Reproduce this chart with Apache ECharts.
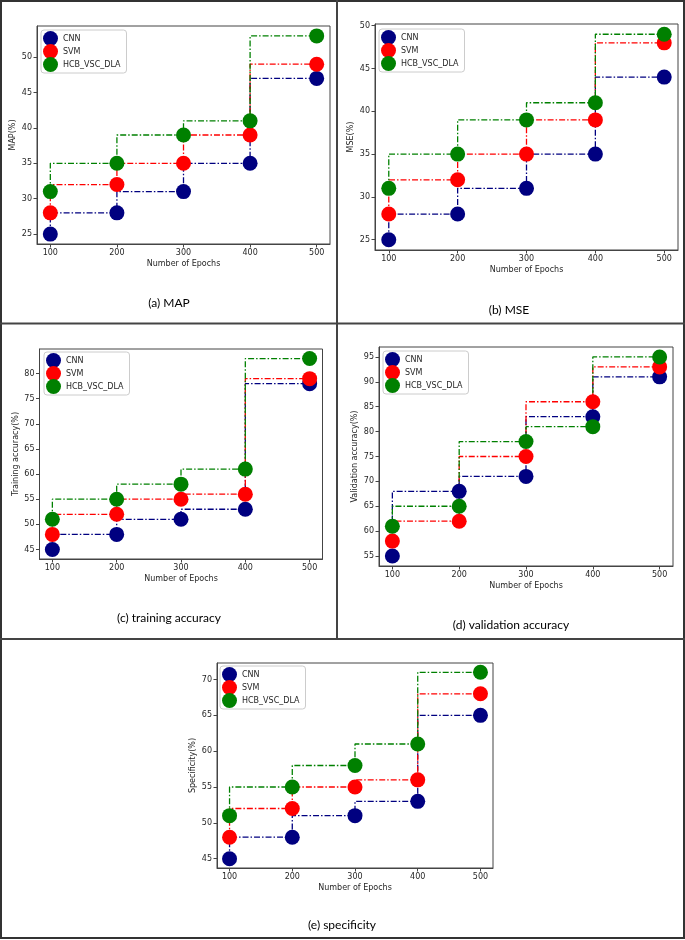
<!DOCTYPE html>
<html>
<head>
<meta charset="utf-8">
<script src="https://cdn.jsdelivr.net/npm/echarts@6/dist/echarts.min.js"></script>
<style>
html,body{margin:0;padding:0;background:#fff;}
#chart{width:685px;height:940px;}
</style>
</head>
<body>
<div id="chart"></div>
<script>
// ---- data ----
const epochs = [100, 200, 300, 400, 500];
const seriesNames = ['CNN', 'SVM', 'HCB_VSC_DLA'];

const mapCNN = [25, 28, 31, 35, 47];
const mapSVM = [28, 32, 35, 39, 49];
const mapHCB = [31, 35, 39, 41, 53];

const mseCNN = [25, 28, 31, 35, 44];
const mseSVM = [28, 32, 35, 39, 48];
const mseHCB = [31, 35, 39, 41, 49];

const trainCNN = [45, 48, 51, 53, 78];
const trainSVM = [48, 52, 55, 56, 79];
const trainHCB = [51, 55, 58, 61, 83];

const valCNN = [55, 68, 71, 83, 91];
const valSVM = [58, 62, 75, 86, 93];
const valHCB = [61, 65, 78, 81, 95];

const specCNN = [45, 48, 51, 53, 65];
const specSVM = [48, 52, 55, 56, 68];
const specHCB = [51, 55, 58, 61, 71];

const mapTicks = [25, 30, 35, 40, 45, 50];
const mseTicks = [25, 30, 35, 40, 45, 50];
const trainTicks = [45, 50, 55, 60, 65, 70, 75, 80];
const valTicks = [55, 60, 65, 70, 75, 80, 85, 90, 95];
const specTicks = [45, 50, 55, 60, 65, 70];

const yLabels = ['MAP(%)', 'MSE(%)', 'Training accuracy(%)', 'Validation accuracy(%)', 'Specificity(%)'];
const captions = ['(a) MAP', '(b) MSE', '(c) training accuracy', '(d) validation accuracy', '(e) specificity'];
const xLabel = 'Number of Epochs';

// ---- layout / style ----
const colors = ['#000080', '#ff0000', '#008000'];
const panels = [
  {data: [mapCNN, mapSVM, mapHCB], ticks: mapTicks, grid: {left: 37, top: 26, width: 293, height: 218}, legend: {left: 41, top: 30}, cap: [169, 303]},
  {data: [mseCNN, mseSVM, mseHCB], ticks: mseTicks, grid: {left: 375, top: 24, width: 303, height: 226}, legend: {left: 379, top: 29}, cap: [509, 310]},
  {data: [trainCNN, trainSVM, trainHCB], ticks: trainTicks, grid: {left: 39.5, top: 349, width: 283, height: 210}, legend: {left: 44, top: 352}, cap: [169, 618]},
  {data: [valCNN, valSVM, valHCB], ticks: valTicks, grid: {left: 379, top: 347, width: 294, height: 219}, legend: {left: 383, top: 351}, cap: [511, 625]},
  {data: [specCNN, specSVM, specHCB], ticks: specTicks, grid: {left: 217, top: 663, width: 276, height: 205}, legend: {left: 220, top: 666}, cap: [342, 925]}
];

const font = 'DejaVu Sans';
const textColor = '#262626';
const frameColor = '#444';

const option = {
  animation: false,
  backgroundColor: '#fff',
  grid: [], xAxis: [], yAxis: [], series: [], legend: [], graphic: []
};

panels.forEach((p, k) => {
  option.grid.push(Object.assign({show: true, borderColor: frameColor, borderWidth: 1, backgroundColor: 'transparent'}, p.grid));
  const allVals = [].concat(...p.data);
  const dMin = Math.min(...allVals), dMax = Math.max(...allVals);
  const yPad = 0.05 * (dMax - dMin);
  const xMin = Math.min(...epochs), xMax = Math.max(...epochs);
  const xPad = 0.05 * (xMax - xMin);
  option.xAxis.push({
    type: 'value', gridIndex: k, min: xMin - xPad, max: xMax + xPad,
    name: xLabel, nameLocation: 'middle', nameGap: 16,
    nameTextStyle: {fontFamily: font, fontSize: 8, color: textColor},
    axisLine: {show: true, onZero: false, lineStyle: {color: frameColor, width: 1}},
    axisTick: {show: true, inside: false, length: 3.5, customValues: epochs, lineStyle: {color: frameColor}},
    axisLabel: {show: true, customValues: epochs, fontFamily: font, fontSize: 8, color: textColor, margin: 5},
    splitLine: {show: false}
  });
  option.yAxis.push({
    type: 'value', gridIndex: k, min: dMin - yPad, max: dMax + yPad,
    name: yLabels[k], nameLocation: 'middle', nameGap: 20,
    nameTextStyle: {fontFamily: font, fontSize: 8, color: textColor},
    axisLine: {show: true, onZero: false, lineStyle: {color: frameColor, width: 1}},
    axisTick: {show: true, inside: false, length: 3.5, customValues: p.ticks, lineStyle: {color: frameColor}},
    axisLabel: {show: true, customValues: p.ticks, fontFamily: font, fontSize: 8, color: textColor, margin: 5},
    splitLine: {show: false}
  });
  p.data.forEach((vals, s) => {
    option.series.push({
      type: 'line', name: seriesNames[s], xAxisIndex: k, yAxisIndex: k,
      step: 'start',
      data: epochs.map((e, i) => [e, vals[i]]),
      symbol: 'circle', symbolSize: 15, showSymbol: true, showAllSymbol: true,
      itemStyle: {color: colors[s]},
      lineStyle: {color: colors[s], width: 1.3, type: [6, 2, 1.5, 2]},
      emphasis: {disabled: true}
    });
  });
  option.legend.push({
    orient: 'vertical', left: p.legend.left, top: p.legend.top,
    data: seriesNames.map(n => ({name: n, icon: 'circle'})),
    itemWidth: 15, itemHeight: 15, itemGap: -2,
    padding: [1, 6, 1, 2],
    borderColor: '#ccc', borderWidth: 1, borderRadius: 3,
    backgroundColor: 'rgba(255,255,255,0.8)',
    textStyle: {fontFamily: font, fontSize: 8, color: textColor},
    selectedMode: false
  });
  option.graphic.push({
    type: 'text', x: p.cap[0], y: p.cap[1],
    style: {text: captions[k], fontFamily: 'Lato', fontSize: 12, fill: '#000', align: 'center', verticalAlign: 'middle'}
  });
});

// panel borders
const lineStyle = {stroke: '#444', lineWidth: 2};
option.graphic.push(
  {type: 'rect', shape: {x: 1, y: 1, width: 683, height: 937}, style: {fill: null, stroke: '#333', lineWidth: 2}},
  {type: 'line', shape: {x1: 0, y1: 323.5, x2: 685, y2: 323.5}, style: lineStyle},
  {type: 'line', shape: {x1: 337, y1: 0, x2: 337, y2: 639}, style: lineStyle},
  {type: 'line', shape: {x1: 0, y1: 639, x2: 685, y2: 639}, style: lineStyle}
);

const chart = echarts.init(document.getElementById('chart'), null, {renderer: 'canvas'});
chart.setOption(option);
</script>
</body>
</html>
